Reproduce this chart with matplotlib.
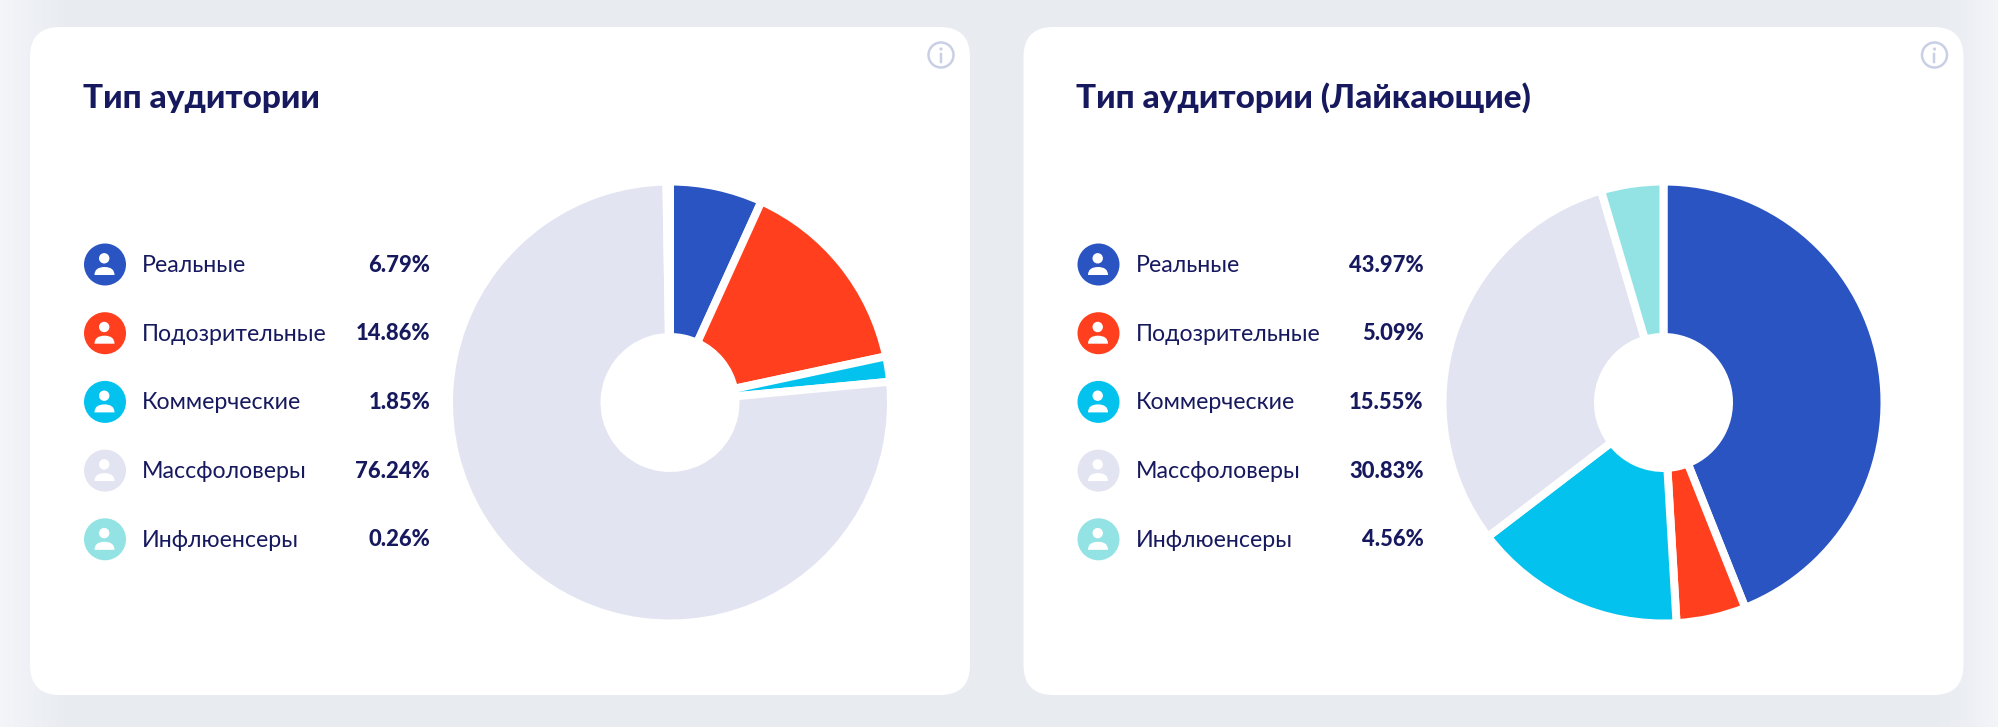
import matplotlib
matplotlib.use('Agg')
import matplotlib.pyplot as plt
import numpy as np
from matplotlib.colors import LinearSegmentedColormap
from matplotlib.patches import Circle, FancyBboxPatch, PathPatch
from matplotlib.path import Path

plt.rcParams['font.family'] = ['Lato', 'Open Sans', 'DejaVu Sans']

W, H = 1999, 727

titles = ['Тип аудитории', 'Тип аудитории (Лайкающие)']
categories = ['Реальные', 'Подозрительные', 'Коммерческие', 'Массфоловеры', 'Инфлюенсеры']
values_all = [6.79, 14.86, 1.85, 76.24, 0.26]
values_liked = [43.97, 5.09, 15.55, 30.83, 4.56]
colors = ['#2b54c3', '#ff3f1e', '#03c3ee', '#e2e4f1', '#93e3e5']
text_color = '#17195e'
info_color = '#c9d0e6'
PX = 0.72  # points per pixel at dpi 100


def draw_person(ax, cx, cy):
    # head + shoulders, white on the coloured circle
    ax.add_patch(Circle((cx - 0.8, cy - 6.2), 5.2, fc='white', ec='none', zorder=4))
    x0, x1, y0, y1 = cx - 10.5, cx + 9.5, cy + 10.5, cy + 2.5
    mid = (x0 + x1) / 2
    verts = [(x0, y0), (x0, y1), (mid, y1), (x1, y1), (x1, y0), (x0, y0)]
    codes = [Path.MOVETO, Path.CURVE3, Path.CURVE3, Path.CURVE3, Path.CURVE3, Path.CLOSEPOLY]
    ax.add_patch(PathPatch(Path(verts, codes), fc='white', ec='none', zorder=4))


def draw_card(bg, fig, dx, title, values):
    bg.add_patch(FancyBboxPatch((30 + dx + 30, 27 + 30), 940 - 60, 668 - 60, boxstyle='round,pad=30,rounding_size=30',
                                fc='white', ec='none', zorder=2))
    bg.text(83 + dx, 108, title, fontsize=24, fontweight='black', color=text_color, ha='left', va='baseline', zorder=5)

    # info icon top right
    ix = 941 + dx
    bg.add_patch(Circle((ix, 55), 12.5, fc='none', ec=info_color, lw=2.5 * PX, zorder=5))
    bg.add_patch(Circle((ix, 49), 1.6, fc=info_color, ec='none', zorder=5))
    bg.plot([ix, ix], [53.5, 62], color=info_color, lw=2.5 * PX, zorder=5)

    for i, (name, val, col) in enumerate(zip(categories, values, colors)):
        cy = 264.5 + i * 68.7
        bg.add_patch(Circle((105 + dx, cy), 21, fc=col, ec='none', zorder=3))
        draw_person(bg, 105 + dx, cy)
        bg.text(142 + dx, cy + 1, name, fontsize=16.7, color=text_color, ha='left', va='center', zorder=5)
        bg.text(430 + dx, cy + 0.5, '%.2f%%' % val, fontsize=15.8, fontweight='black', color=text_color,
                ha='right', va='center', zorder=5)

    # the pie gets its own axes in pixel units
    cx, cy, half = 670 + dx, 402.5, 240
    ax = fig.add_axes([(cx - half) / W, (H - cy - half) / H, 2 * half / W, 2 * half / H])
    ax.pie(values, colors=colors, startangle=90, counterclock=False, radius=221,
           wedgeprops=dict(width=221 - 65.5, edgecolor='white', linewidth=8 * PX))
    ax.set_xlim(-half, half)
    ax.set_ylim(-half, half)
    ax.axis('off')


fig = plt.figure(figsize=(W / 100, H / 100), dpi=100)
bg = fig.add_axes([0, 0, 1, 1])
bg.axis('off')

# page background: card shadow fades out towards the left and right edges
xs = np.arange(W)
shade = np.interp(xs, [0, 30, 70, W - 70, W - 35, W - 1], [1.0, 0.55, 0.0, 0.0, 0.35, 1.0])
bg_cmap = LinearSegmentedColormap.from_list('page', ['#e8ebf0', '#f3f5f9'])
bg.imshow(shade[np.newaxis, :], cmap=bg_cmap, vmin=0, vmax=1, extent=(0, W, H, 0), aspect='auto', zorder=0)
bg.set_xlim(0, W)
bg.set_ylim(H, 0)

draw_card(bg, fig, 0, titles[0], values_all)
draw_card(bg, fig, 993.5, titles[1], values_liked)

fig.savefig('out.png', dpi=100)
